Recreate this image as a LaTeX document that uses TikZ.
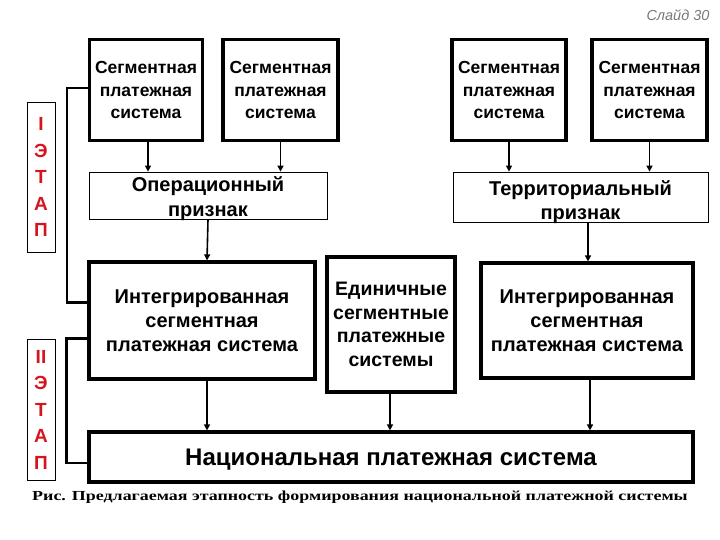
\documentclass[tikz,border=0pt]{standalone}
\usepackage{fontspec}
\setmainfont{Liberation Sans}
\newfontfamily\capserif[FakeStretch=1.3]{Liberation Serif}
\usetikzlibrary{arrows.meta}
\definecolor{stagered}{RGB}{215,20,30}
\definecolor{slidegray}{RGB}{120,120,120}
\begin{document}
\begin{tikzpicture}[x=1pt,y=-1pt,
  segbox/.style={draw, line width=3.2pt, align=center, inner sep=0pt,
     font=\bfseries\fontsize{17.5}{22.5}\selectfont},
  thinbox/.style={draw, line width=0.8pt, align=center, inner sep=0pt,
     font=\bfseries\fontsize{20}{25}\selectfont},
  intbox/.style={draw, line width=3.2pt, align=center, inner sep=0pt,
     font=\bfseries\fontsize{20}{24}\selectfont},
  stagebox/.style={draw, line width=0.8pt, align=center, inner sep=0pt,
     text=stagered, font=\bfseries\fontsize{19}{26.5}\selectfont},
  arr/.style={line width=1.6pt, -{Triangle[length=6pt,width=6pt]}},
  brk/.style={line width=2.4pt},
  innerline/.style={line width=0.6pt}]
\useasboundingbox (0,0) rectangle (720,540);

\node[segbox, minimum width=113pt, minimum height=101pt] (s1) at (146,90) {Сегментная\\платежная\\система};
\node[segbox, minimum width=115pt, minimum height=101pt] (s2) at (280.5,90) {Сегментная\\платежная\\система};
\node[segbox, minimum width=114pt, minimum height=101pt] (s3) at (509,90) {Сегментная\\платежная\\система};
\node[segbox, minimum width=115pt, minimum height=101pt] (s4) at (649.5,90) {Сегментная\\платежная\\система};

\node[thinbox, minimum width=238pt, minimum height=47pt] (op) at (208,195.5) {\rule{0pt}{18pt}\smash{Операционный}\\\smash{признак}};
\node[thinbox, minimum width=255pt, minimum height=50pt, font=\bfseries\fontsize{20}{24}\selectfont] (terr) at (580.5,197) {\rule{0pt}{20pt}\smash{Территориальный}\\\smash{признак}};

\node[intbox, minimum width=226pt, minimum height=117pt] (int1) at (202,320.5) {Интегрированная\\сегментная\\платежная система};
\node[intbox, minimum width=128pt, minimum height=135pt, font=\bfseries\fontsize{19.5}{23.5}\selectfont] (edin) at (391,324.5) {Единичные\\сегментные\\платежные\\системы};
\node[intbox, minimum width=212pt, minimum height=115pt] (int2) at (587,320.5) {Интегрированная\\сегментная\\платежная система};

\node[intbox, minimum width=604pt, minimum height=50pt, font=\bfseries\fontsize{24}{28}\selectfont] (nat) at (391,457) {\rule{0pt}{22pt}Национальная платежная система};

\foreach \n in {s1,s2,s3,s4,int1,edin,int2,nat}
  \draw[innerline] ([xshift=2.8pt,yshift=-1.6pt]\n.north west) -- ([xshift=2.8pt,yshift=1.6pt]\n.south west);

\node[stagebox, minimum width=28pt, minimum height=150pt] (st1) at (41,177) {I\\Э\\Т\\А\\П};
\node[stagebox, minimum width=28pt, minimum height=141pt] (st2) at (41,409.5) {II\\Э\\Т\\А\\П};

% arrows stage I
\draw[arr] ([xshift=2pt]s1.south) -- ([xshift=2pt]s1.south |- op.north);
\draw[arr] (s2.south) -- (s2.south |- op.north);
\draw[arr] (s3.south) -- (s3.south |- terr.north);
\draw[arr] (s4.south) -- (s4.south |- terr.north);
\draw[arr] (op.south) -- ([xshift=-1pt]op.south |- int1.north);
\draw[arr] ([xshift=1pt]int2.north |- terr.south) -- ([xshift=1pt]int2.north);

% arrows stage II
\draw[arr] ([xshift=5pt]int1.south) -- ([xshift=5pt]int1.south |- nat.north);
\draw[arr] ([xshift=-1pt]edin.south) -- ([xshift=-1pt]edin.south |- nat.north);
\draw[arr] ([xshift=3pt]int2.south) -- ([xshift=3pt]int2.south |- nat.north);

% brackets
\draw[brk] ([yshift=2pt]s1.west) -- ++(-21,0) |- ([yshift=18pt]int1.west);
\draw[brk] ([yshift=-18pt]int1.west) -- ++(-21,0) |- ([yshift=-6pt]nat.west);

\node[anchor=east, text=slidegray, font=\itshape\fontsize{14.5}{16}\selectfont] (slide) at (713,15) {Слайд 30};
\node[font=\capserif\bfseries\fontsize{13.8}{16}\selectfont] (cap) at (360,497) {Рис. Предлагаемая этапность формирования национальной платежной системы};
\end{tikzpicture}
\end{document}
